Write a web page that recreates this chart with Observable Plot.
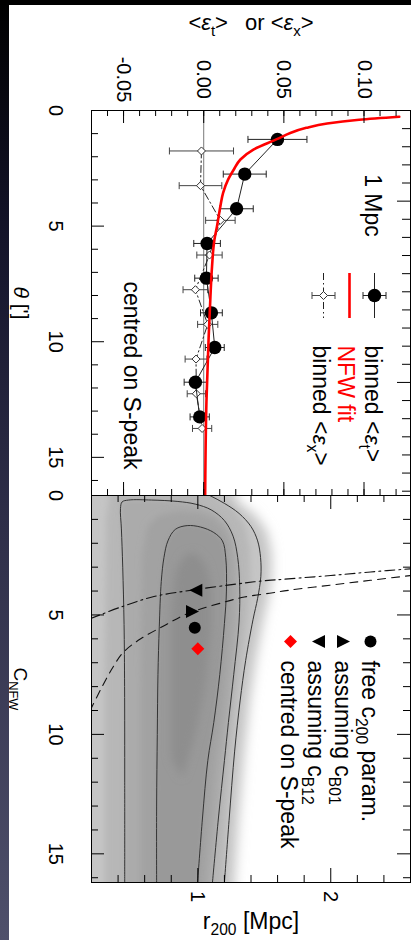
<!DOCTYPE html>
<html>
<head>
<meta charset="utf-8">
<script src="https://cdn.jsdelivr.net/npm/d3@7"></script>
<script src="https://cdn.jsdelivr.net/npm/@observablehq/plot@0.6"></script>
<style>
html, body { margin:0; padding:0; background:#fff; }
body { width:411px; height:940px; position:relative; overflow:hidden; font-family:"Liberation Sans", Arial, sans-serif; }
#edge { position:absolute; left:0; top:0; width:9px; height:940px; background:linear-gradient(to bottom, #000 0%, #14142a 25%, #2e2e48 55%, #4f506b 100%); }
#topband { position:absolute; left:0; top:0; width:411px; height:5px; background:#000; }
#top { position:absolute; left:0; top:0; }
#bot { position:absolute; left:0; top:493px; }
</style>
</head>
<body>
<div id="top"></div>
<div id="bot"></div>
<div id="edge"></div>
<div id="topband"></div>
<script>
// ================= TOP PANEL DATA (shear profile) =================
const thetaT = [1.25, 2.75, 4.25, 5.75, 7.25, 8.75, 10.25, 11.75, 13.25];
const epsT   = [0.046, 0.0256, 0.0205, 0.0021, 0.0017, 0.0048, 0.0069, -0.0052, -0.0025];
const errT   = [0.0184, 0.0134, 0.0104, 0.0083, 0.0073, 0.0068, 0.0059, 0.0070, 0.0060];

const thetaX = [1.75, 3.25, 4.75, 6.25, 7.75, 9.25, 10.75, 12.25, 13.75];
const epsX   = [-0.0014, -0.0020, 0.0104, 0.0036, -0.0052, 0.0025, -0.0048, -0.0046, -0.0010];
const errX   = [0.0200, 0.0133, 0.0092, 0.0079, 0.0077, 0.0063, 0.0068, 0.0057, 0.0060];

const nfwTheta = [0.27, 0.40, 0.56, 0.75, 0.97, 1.23, 1.69, 2.12, 2.55, 2.99, 3.56, 4.14, 5.0, 5.58, 6.74, 8.04, 9.77, 12.6, 15.8, 16.65];
const nfwEps   = [0.122, 0.097, 0.077, 0.064, 0.054, 0.046, 0.031, 0.0229, 0.0188, 0.0152, 0.0121, 0.0104, 0.0083, 0.0067, 0.0052, 0.0042, 0.0031, 0.0017, 0.0010, 0.0009];

const epsDomain = [-0.07, 0.129];
const thetaDomain = [0, 16.65];
const epsMinor = [-0.06,-0.05,-0.04,-0.03,-0.02,-0.01,0,0.01,0.02,0.03,0.04,0.05,0.06,0.07,0.08,0.09,0.10,0.11,0.12];
const epsMajor = [-0.05, 0, 0.05, 0.10];
const epsLabels = ["-0.05", "0.00", "0.05", "0.10"];
const thetaMinor = [1,2,3,4,6,7,8,9,11,12,13,14,16];
const thetaMajor = [0, 5, 10, 15];
const thetaLabels = ["0", "5", "10", "15"];
const mpcMinor = [0.2,0.4,0.6,0.8,1.2,1.4,1.6,1.8,2.0,2.2,2.4,2.6,2.8,3.2,3.4,3.6,3.8,4.0,4.2];
const mpcMajor = [1, 3];
const arcminPerMpc = 3.92;

// ================= BOTTOM PANEL DATA (r200 vs c) =================
const markerNames = ["free c_{200} param.", "assuming c_{B01}", "assuming c_{B12}", "centred on S-peak"];
const markerR = [0.977, 0.96, 0.985, 1.0];
const markerC = [5.54, 4.86, 3.97, 6.41];

const b01R = [0.19, 0.28, 0.36, 0.44, 0.57, 0.75, 0.92, 1.2, 1.35, 1.54, 1.68, 2.0, 2.3, 2.6];
const b01C = [9.0, 8.0, 7.2, 6.56, 6.0, 5.44, 4.95, 4.46, 4.25, 4.09, 3.97, 3.75, 3.55, 3.35];
const b12R = [0.19, 0.42, 0.67, 0.97, 1.27, 1.48, 1.68, 2.0, 2.3, 2.6];
const b12C = [5.16, 4.67, 4.23, 3.95, 3.72, 3.58, 3.49, 3.35, 3.2, 3.07];

// contour lines (1, 2, 3 sigma)
const c1R = [0.69, 0.69, 0.695, 0.70, 0.71, 0.725, 0.745, 0.775, 0.83, 0.92, 1.02, 1.12, 1.185, 1.21, 1.215, 1.20, 1.165, 1.12, 1.075, 1.035, 0.998];
const c1C = [16.2, 13.0, 10.0, 7.5, 5.5, 3.6, 2.6, 1.9, 1.42, 1.26, 1.32, 1.55, 1.9, 2.6, 4.0, 5.36, 7.5, 9.5, 11.1, 13.5, 16.2];
const c2R = [0.45, 0.45, 0.449, 0.445, 0.435, 0.425, 0.418, 0.43, 0.48, 0.65, 0.85, 0.98, 1.1, 1.2, 1.265, 1.3, 1.315, 1.31, 1.27, 1.23, 1.2, 1.155, 1.11];
const c2C = [16.2, 12, 8, 5.4, 3.0, 1.4, 0.55, 0.27, 0.19, 0.19, 0.25, 0.36, 0.6, 1.05, 1.7, 2.6, 3.8, 5.3, 7.5, 9.5, 11.1, 13.5, 16.2];
const c3R = [0.98, 1.09, 1.2, 1.31, 1.40, 1.45, 1.472, 1.474, 1.45, 1.415, 1.36, 1.318, 1.277, 1.235, 1.20];
const c3C = [-0.3, 0.0, 0.33, 0.75, 1.3, 1.9, 2.6, 3.4, 4.3, 5.2, 6.9, 8.6, 10.7, 13.6, 16.2];

// grey likelihood shading levels (outer to inner)
const shOuterR = [-0.5, 1.15, 1.3, 1.43, 1.52, 1.555, 1.555, 1.53, 1.49, 1.435, 1.39, 1.35, 1.305, 1.275, 1.275, -0.5];
const shOuterC = [-3, -3, 0.25, 0.8, 1.5, 2.4, 3.4, 4.3, 5.3, 6.9, 8.6, 10.7, 13.6, 16.2, 20, 20];
const shMidR = [0.3, 0.3, 0.31, 0.36, 0.6, 1.0, 1.16, 1.28, 1.355, 1.39, 1.395, 1.37, 1.33, 1.29, 1.25, 1.21, 1.19, 1.19];
const shMidC = [20, 8, 1.0, -1, -1, -1, 0.15, 0.6, 1.3, 2.2, 3.4, 5.2, 6.9, 8.6, 10.7, 13.6, 16.2, 20];
const shInR = [0.57, 0.57, 0.58, 0.62, 0.7, 0.85, 1.0, 1.12, 1.2, 1.245, 1.26, 1.255, 1.22, 1.18, 1.14, 1.10, 1.055, 1.055];
const shInC = [20, 8, 2.5, 1.3, 0.85, 0.65, 0.7, 0.95, 1.4, 2.0, 3.0, 5.3, 7.5, 9.5, 11.1, 13.5, 16.2, 20];
const shCoreR = [0.8, 0.8, 0.83, 0.9, 0.98, 1.06, 1.1, 1.1, 1.06, 0.99, 0.92, 0.88, 0.86];
const shCoreC = [11, 5, 3.2, 2.5, 2.4, 2.9, 3.8, 5.5, 7.8, 9.8, 11.2, 11.8, 11.6];

const rDomain = [0.2, 2.6];
const cDomain = [0, 16.2];
const rMinor = [0.4, 0.6, 0.8, 1.2, 1.4, 1.6, 1.8, 2.2, 2.4];
const rMajor = [1, 2];
const rLabels = ["1", "2"];
const cMinor = [1,2,3,4,6,7,8,9,11,12,13,14,16];
const cMajor = [0, 5, 10, 15];
const cLabels = ["0", "5", "10", "15"];

// ================= helpers =================
const ns = "http://www.w3.org/2000/svg";
const vcap = len => ({draw(ctx){ ctx.moveTo(0, -len/2); ctx.lineTo(0, len/2); }});
const ebar = (hw, ch) => ({draw(ctx){ ctx.moveTo(-hw,0); ctx.lineTo(hw,0); ctx.moveTo(-hw,-ch); ctx.lineTo(-hw,ch); ctx.moveTo(hw,-ch); ctx.lineTo(hw,ch); }});
const diamond = s => ({draw(ctx){ ctx.moveTo(0,-s/2); ctx.lineTo(s/2,0); ctx.lineTo(0,s/2); ctx.lineTo(-s/2,0); ctx.closePath(); }});
const triR = s => ({draw(ctx){ ctx.moveTo(-s/2,-s/2); ctx.lineTo(s/2,0); ctx.lineTo(-s/2,s/2); ctx.closePath(); }});
const triL = s => ({draw(ctx){ ctx.moveTo(s/2,-s/2); ctx.lineTo(-s/2,0); ctx.lineTo(s/2,s/2); ctx.closePath(); }});
const pts = (R, C) => R.map((r, i) => ({r, c: C[i]}));
const ext = (R, C) => [{r: R[0], c: 20}, ...pts(R, C), {r: R[R.length-1], c: 20}];

function richify(svg) {
  svg.querySelectorAll("text").forEach(t => {
    const s = t.textContent;
    if (!/[_~]\{/.test(s)) return;
    const fs = parseFloat(getComputedStyle(t).fontSize) || 20;
    const parts = s.split(/(_\{[^}]*\}|~\{[^}]*\})/).filter(p => p !== "");
    t.textContent = "";
    let shifted = false;
    for (const p of parts) {
      const ts = document.createElementNS(ns, "tspan");
      if (p.startsWith("_{")) {
        ts.textContent = p.slice(2, -1);
        ts.setAttribute("font-size", (fs * 0.68).toFixed(1));
        ts.setAttribute("dy", (fs * 0.28).toFixed(1));
        shifted = true;
      } else {
        if (p.startsWith("~{")) { ts.textContent = p.slice(2, -1); ts.setAttribute("font-style", "italic"); }
        else ts.textContent = p;
        if (shifted) { ts.setAttribute("dy", (-fs * 0.28).toFixed(1)); shifted = false; }
      }
      t.appendChild(ts);
    }
  });
}
function addBlur(svg, id, sd) {
  let defs = svg.querySelector("defs");
  if (!defs) { defs = document.createElementNS(ns, "defs"); svg.insertBefore(defs, svg.firstChild); }
  const f = document.createElementNS(ns, "filter");
  f.setAttribute("id", id); f.setAttribute("filterUnits", "userSpaceOnUse");
  f.setAttribute("x", -200); f.setAttribute("y", -200); f.setAttribute("width", 900); f.setAttribute("height", 900);
  const g = document.createElementNS(ns, "feGaussianBlur"); g.setAttribute("stdDeviation", sd);
  f.appendChild(g); defs.appendChild(f);
}

const baseStyle = {background: "transparent", fontFamily: "'Liberation Sans', Arial, sans-serif", fontSize: "20px", color: "#000", overflow: "visible"};
const TXT = {textAnchor: "middle", lineAnchor: "middle"};

// ================= TOP PANEL =================
const tp = {w: 411, h: 496, mt: 110, ml: 91, mr: 1, mb: 1};
const tFW = tp.w - tp.ml - tp.mr, tFH = tp.h - tp.mt - tp.mb;
const T = thetaT.map((t, i) => ({theta: t, eps: epsT[i], err: errT[i]}));
const X = thetaX.map((t, i) => ({theta: t, eps: epsX[i], err: errX[i]}));
const N = nfwTheta.map((t, i) => ({theta: t, eps: nfwEps[i]}));
const DASHDOT = "7,3,1.5,3";

const topSvg = Plot.plot({
  width: tp.w, height: tp.h, marginTop: tp.mt, marginLeft: tp.ml, marginRight: tp.mr, marginBottom: tp.mb,
  style: baseStyle,
  x: {domain: epsDomain, axis: null},
  y: {domain: thetaDomain, reverse: true, axis: null},
  marks: [
    Plot.ruleX([0], {stroke: "#555", strokeWidth: 0.8}),
    // cross-shear
    Plot.link(X, {x1: d => d.eps - d.err, x2: d => d.eps + d.err, y1: "theta", y2: "theta", stroke: "#444", strokeWidth: 1}),
    Plot.dot(X, {x: d => d.eps - d.err, y: "theta", symbol: vcap(7), stroke: "#444", strokeWidth: 1}),
    Plot.dot(X, {x: d => d.eps + d.err, y: "theta", symbol: vcap(7), stroke: "#444", strokeWidth: 1}),
    Plot.line(X, {x: "eps", y: "theta", stroke: "#222", strokeWidth: 1, strokeDasharray: DASHDOT}),
    Plot.dot(X, {x: "eps", y: "theta", symbol: diamond(8), fill: "#fff", stroke: "#333", strokeWidth: 1}),
    // tangential shear
    Plot.link(T, {x1: d => d.eps - d.err, x2: d => d.eps + d.err, y1: "theta", y2: "theta", stroke: "#222", strokeWidth: 1}),
    Plot.dot(T, {x: d => d.eps - d.err, y: "theta", symbol: vcap(7), stroke: "#222", strokeWidth: 1}),
    Plot.dot(T, {x: d => d.eps + d.err, y: "theta", symbol: vcap(7), stroke: "#222", strokeWidth: 1}),
    Plot.line(T, {x: "eps", y: "theta", stroke: "#222", strokeWidth: 1}),
    Plot.dot(T, {x: "eps", y: "theta", r: 6.7, fill: "#000"}),
    // NFW fit
    Plot.line(N, {x: "eps", y: "theta", stroke: "#ff0000", strokeWidth: 2.6, curve: "monotone-y", clip: true}),
    Plot.frame({stroke: "#000", strokeWidth: 1}),
    // ticks
    Plot.ruleX(epsMinor, {x: d => d, insetBottom: tFH - 6, stroke: "#000"}),
    Plot.ruleX(epsMajor, {x: d => d, insetBottom: tFH - 13, stroke: "#000"}),
    Plot.ruleX(epsMinor, {x: d => d, insetTop: tFH - 6, stroke: "#000"}),
    Plot.ruleX(epsMajor, {x: d => d, insetTop: tFH - 13, stroke: "#000"}),
    Plot.ruleY(thetaMinor, {y: d => d, insetRight: tFW - 7, stroke: "#000"}),
    Plot.ruleY(thetaMajor, {y: d => d, insetRight: tFW - 13, stroke: "#000"}),
    Plot.ruleY(mpcMinor, {y: d => d * arcminPerMpc, insetLeft: tFW - 8, stroke: "#000"}),
    Plot.ruleY(mpcMajor, {y: d => d * arcminPerMpc, insetLeft: tFW - 13, stroke: "#000"}),
    // tick labels
    Plot.text(epsMajor, {x: d => d, text: (d, i) => epsLabels[i], frameAnchor: "top", dy: -31, rotate: 90, fontSize: 20, ...TXT}),
    Plot.text(thetaMajor, {y: d => d, text: (d, i) => thetaLabels[i], frameAnchor: "left", dx: -36, rotate: 90, fontSize: 20, ...TXT}),
    // axis titles
    Plot.text(["<~{ε}_{t}>\u2002 or <~{ε}_{x}>"], {frameAnchor: "top", dy: -88, fontSize: 22, ...TXT}),
    Plot.text(["~{θ} [']"], {frameAnchor: "left", dx: -71, rotate: 90, fontSize: 21, ...TXT}),
    // annotations
    Plot.text(["1 Mpc"], {frameAnchor: "top-right", dx: -38, dy: 95, rotate: 90, fontSize: 23, ...TXT}),
    Plot.text(["centred on S-peak"], {frameAnchor: "top-left", dx: 40, dy: 265, rotate: 90, fontSize: 23, ...TXT}),
    // legend
    Plot.dot([0], {frameAnchor: "top-right", dx: -36, dy: 185, symbol: vcap(45), stroke: "#222", strokeWidth: 1}),
    Plot.dot([0], {frameAnchor: "top-right", dx: -36, dy: 185, symbol: ebar(11.5, 3.5), stroke: "#222", strokeWidth: 1}),
    Plot.dot([0], {frameAnchor: "top-right", dx: -36, dy: 185, r: 6.7, fill: "#000"}),
    Plot.dot([0], {frameAnchor: "top-right", dx: -61, dy: 185, symbol: vcap(45), stroke: "#ff0000", strokeWidth: 2.6}),
    Plot.dot([0], {frameAnchor: "top-right", dx: -87, dy: 185, symbol: vcap(45), stroke: "#222", strokeWidth: 1, strokeDasharray: DASHDOT}),
    Plot.dot([0], {frameAnchor: "top-right", dx: -87, dy: 185, symbol: ebar(11.5, 3.5), stroke: "#444", strokeWidth: 1}),
    Plot.dot([0], {frameAnchor: "top-right", dx: -87, dy: 185, symbol: diamond(8), fill: "#fff", stroke: "#333", strokeWidth: 1}),
    Plot.text(["binned <~{ε}_{t}>"], {frameAnchor: "top-right", dx: -38, dy: 235, rotate: 90, fontSize: 23, textAnchor: "start", lineAnchor: "middle"}),
    Plot.text(["NFW fit"], {frameAnchor: "top-right", dx: -65, dy: 235, rotate: 90, fontSize: 23, fill: "#ff0000", textAnchor: "start", lineAnchor: "middle"}),
    Plot.text(["binned <~{ε}_{x}>"], {frameAnchor: "top-right", dx: -90, dy: 235, rotate: 90, fontSize: 23, textAnchor: "start", lineAnchor: "middle"})
  ]
});
document.getElementById("top").appendChild(topSvg);
richify(topSvg);

// ================= BOTTOM PANEL =================
const bp = {w: 411, h: 447, mt: 2, ml: 91, mr: 1, mb: 58};
const bFW = bp.w - bp.ml - bp.mr, bFH = bp.h - bp.mt - bp.mb;
const M = markerNames.map((n, i) => ({name: n, r: markerR[i], c: markerC[i]}));
const CONT = {x: "r", y: "c", stroke: "#333", strokeWidth: 1, curve: "catmull-rom", clip: true};
const SH = (fill) => ({x: "r", y: "c", fill, stroke: "none", clip: true});

const botSvg = Plot.plot({
  width: bp.w, height: bp.h, marginTop: bp.mt, marginLeft: bp.ml, marginRight: bp.mr, marginBottom: bp.mb,
  style: baseStyle,
  x: {domain: rDomain, axis: null},
  y: {domain: cDomain, reverse: true, axis: null},
  marks: [
    Plot.line(pts(shOuterR, shOuterC), SH("#c5c5c5")),
    Plot.line(pts(shMidR, shMidC), SH("#b7b7b7")),
    Plot.line(ext(c2R, c2C), SH("#ababab")),
    Plot.line(pts(shInR, shInC), SH("#a2a2a2")),
    Plot.line(ext(c1R, c1C), SH("#999999")),
    Plot.line(pts(shCoreR, shCoreC), SH("#8e8e8e")),
    Plot.line(pts(c3R, c3C), CONT),
    Plot.line(pts(c2R, c2C), CONT),
    Plot.line(pts(c1R, c1C), CONT),
    Plot.line(pts(b01R, b01C), {x: "r", y: "c", stroke: "#111", strokeWidth: 1.1, strokeDasharray: "8,6", curve: "catmull-rom", clip: true}),
    Plot.line(pts(b12R, b12C), {x: "r", y: "c", stroke: "#111", strokeWidth: 1.1, strokeDasharray: "10,4,2,4", curve: "catmull-rom", clip: true}),
    Plot.dot(M.slice(0, 1), {x: "r", y: "c", r: 6, fill: "#000"}),
    Plot.dot(M.slice(1, 2), {x: "r", y: "c", symbol: triR(13), fill: "#000"}),
    Plot.dot(M.slice(2, 3), {x: "r", y: "c", symbol: triL(13), fill: "#000"}),
    Plot.dot(M.slice(3, 4), {x: "r", y: "c", symbol: diamond(13), fill: "#ff0000"}),
    Plot.frame({stroke: "#000", strokeWidth: 1}),
    // ticks
    Plot.ruleX(rMinor, {x: d => d, insetBottom: bFH - 7, stroke: "#000"}),
    Plot.ruleX(rMajor, {x: d => d, insetBottom: bFH - 14, stroke: "#000"}),
    Plot.ruleX(rMinor, {x: d => d, insetTop: bFH - 7, stroke: "#000"}),
    Plot.ruleX(rMajor, {x: d => d, insetTop: bFH - 14, stroke: "#000"}),
    Plot.ruleY(cMinor, {y: d => d, insetRight: bFW - 7, stroke: "#000"}),
    Plot.ruleY(cMajor, {y: d => d, insetRight: bFW - 13, stroke: "#000"}),
    Plot.ruleY(cMinor, {y: d => d, insetLeft: bFW - 7, stroke: "#000"}),
    Plot.ruleY(cMajor, {y: d => d, insetLeft: bFW - 13, stroke: "#000"}),
    // tick labels
    Plot.text(rMajor, {x: d => d, text: (d, i) => rLabels[i], frameAnchor: "bottom", dy: 14, rotate: 90, fontSize: 20, ...TXT}),
    Plot.text(cMajor, {y: d => d, text: (d, i) => cLabels[i], frameAnchor: "left", dx: -36, rotate: 90, fontSize: 20, ...TXT}),
    // axis titles
    Plot.text(["r_{200} [Mpc]"], {frameAnchor: "bottom", dy: 39, fontSize: 23, ...TXT}),
    Plot.text(["C_{NFW}"], {frameAnchor: "left", dx: -71, rotate: 90, fontSize: 19, ...TXT}),
    // legend
    Plot.dot([0], {frameAnchor: "top-right", dx: -40, dy: 146, r: 6, fill: "#000"}),
    Plot.dot([0], {frameAnchor: "top-right", dx: -67, dy: 146, symbol: triR(13), fill: "#000"}),
    Plot.dot([0], {frameAnchor: "top-right", dx: -92, dy: 146, symbol: triL(13), fill: "#000"}),
    Plot.dot([0], {frameAnchor: "top-right", dx: -120, dy: 146, symbol: diamond(13), fill: "#ff0000"}),
    Plot.text([markerNames[0]], {frameAnchor: "top-right", dx: -41, dy: 165, rotate: 90, fontSize: 23, textAnchor: "start", lineAnchor: "middle"}),
    Plot.text([markerNames[1]], {frameAnchor: "top-right", dx: -68, dy: 165, rotate: 90, fontSize: 23, textAnchor: "start", lineAnchor: "middle"}),
    Plot.text([markerNames[2]], {frameAnchor: "top-right", dx: -95, dy: 165, rotate: 90, fontSize: 23, textAnchor: "start", lineAnchor: "middle"}),
    Plot.text([markerNames[3]], {frameAnchor: "top-right", dx: -122, dy: 165, rotate: 90, fontSize: 23, textAnchor: "start", lineAnchor: "middle"})
  ]
});
document.getElementById("bot").appendChild(botSvg);
richify(botSvg);
addBlur(botSvg, "b6", 6);
addBlur(botSvg, "b3", 3);
addBlur(botSvg, "b2", 2);
addBlur(botSvg, "b4", 4);
const blurMap = {"#c5c5c5": "b6", "#b7b7b7": "b3", "#ababab": "b2", "#a2a2a2": "b3", "#999999": "b2", "#8e8e8e": "b4"};
for (const [col, id] of Object.entries(blurMap)) {
  const g = botSvg.querySelector(`g[fill="${col}"]`);
  if (g) g.setAttribute("filter", `url(#${id})`);
}
</script>
</body>
</html>
